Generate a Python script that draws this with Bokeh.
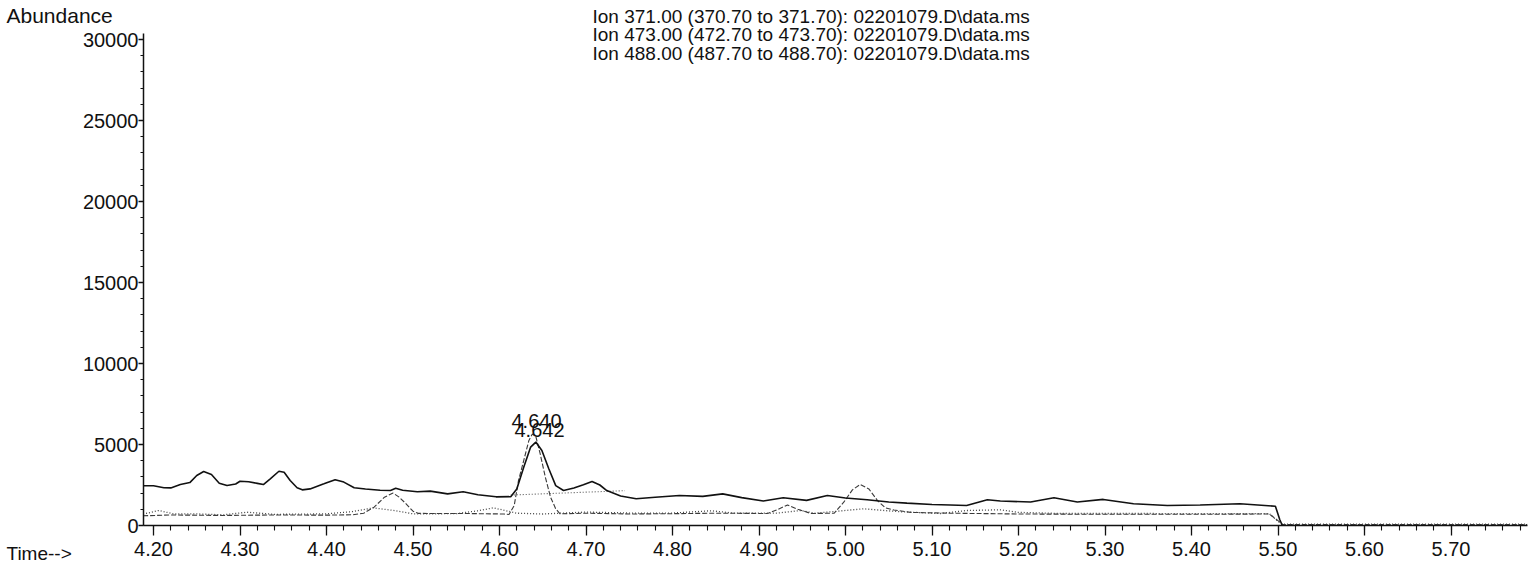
from bokeh.plotting import figure
from bokeh.models import FixedTicker, Label, Range1d
from bokeh.embed import file_html
from bokeh.resources import INLINE

# ---- data ----
ion371_t = [4.188, 4.20, 4.212, 4.22, 4.231, 4.242, 4.25, 4.258, 4.267, 4.276, 4.285, 4.295,
            4.30, 4.31, 4.32, 4.327, 4.335, 4.345, 4.351, 4.358, 4.366, 4.372, 4.381, 4.397,
            4.41, 4.42, 4.432, 4.445, 4.462, 4.474, 4.48, 4.488, 4.505, 4.52,
            4.54, 4.558, 4.575, 4.596, 4.613, 4.620, 4.628, 4.636, 4.642, 4.649, 4.657, 4.665,
            4.674, 4.686, 4.697, 4.707, 4.716, 4.724, 4.74, 4.758, 4.78, 4.808, 4.835, 4.858,
            4.88, 4.905, 4.928, 4.955, 4.979, 5.00, 5.025, 5.05, 5.071, 5.10, 5.121, 5.14,
            5.164, 5.179, 5.214, 5.241, 5.268, 5.298, 5.333, 5.372, 5.41, 5.456, 5.497,
            5.502, 5.505]
ion371_v = [2450, 2450, 2330, 2320, 2530, 2650, 3090, 3330, 3150, 2610, 2470, 2560,
            2730, 2700, 2600, 2530, 2880, 3350, 3290, 2780, 2330, 2200, 2260, 2570,
            2830, 2680, 2330, 2250, 2180, 2160, 2300, 2180, 2080, 2120,
            1950, 2080, 1900, 1770, 1780, 2260, 3600, 4840, 5150, 4630, 3500, 2460,
            2160, 2320, 2520, 2720, 2500, 2160, 1820, 1650, 1740, 1850, 1800, 1950,
            1720, 1510, 1710, 1550, 1850, 1700, 1590, 1450, 1380, 1300, 1270, 1230,
            1590, 1510, 1450, 1710, 1450, 1610, 1340, 1230, 1270, 1340, 1190,
            370, 0]

ion473_t = [4.188, 4.22, 4.28, 4.34, 4.40, 4.43, 4.443, 4.455, 4.467, 4.477, 4.484, 4.492,
            4.50, 4.506, 4.52, 4.56, 4.605, 4.611, 4.617, 4.622, 4.628, 4.634, 4.638, 4.642,
            4.647, 4.653, 4.659, 4.665, 4.67, 4.70, 4.75, 4.80, 4.85, 4.91, 4.922, 4.933,
            4.945, 4.96, 4.987, 4.998, 5.008, 5.017, 5.027, 5.037, 5.046, 5.056, 5.075,
            5.12, 5.20, 5.30, 5.40, 5.49, 5.50, 5.505, 5.788]
ion473_v = [600, 650, 620, 650, 640, 660, 760, 1130, 1750, 2000, 1750, 1340,
            880, 750, 740, 740, 710, 680, 1230, 2780, 4010, 5250, 5650, 5500,
            4430, 2980, 1750, 1030, 720, 760, 710, 730, 760, 740, 1000, 1270,
            1000, 740, 760, 1440, 2200, 2530, 2260, 1540, 1090, 960, 810,
            760, 710, 690, 690, 710, 300, 60, 60]

ion488_t = [4.188, 4.206, 4.224, 4.247, 4.281, 4.308, 4.339, 4.37, 4.40, 4.43, 4.454, 4.48,
            4.50, 4.55, 4.575, 4.593, 4.62, 4.65, 4.70, 4.75, 4.80, 4.845, 4.87, 4.92,
            4.948, 4.965, 5.021, 5.06, 5.11, 5.14, 5.179, 5.20, 5.25, 5.35, 5.45, 5.49,
            5.50, 5.505, 5.788]
ion488_v = [700, 925, 710, 720, 660, 820, 690, 700, 720, 860, 1090, 910,
            720, 730, 910, 1090, 760, 710, 830, 770, 770, 910, 770, 760,
            925, 760, 1030, 860, 740, 925, 970, 810, 740, 740, 730, 730,
            250, 90, 90]

# integration baseline under the 4.642 peak
base_t = [4.613, 4.745]
base_v = [1880, 2150]

peak_labels = ["4.640", "4.642"]

legend_lines = ["Ion 371.00 (370.70 to 371.70): 02201079.D\\data.ms",
                "Ion 473.00 (472.70 to 473.70): 02201079.D\\data.ms",
                "Ion 488.00 (487.70 to 488.70): 02201079.D\\data.ms"]

x_ticks = [4.2, 4.3, 4.4, 4.5, 4.6, 4.7, 4.8, 4.9, 5.0, 5.1, 5.2, 5.3, 5.4, 5.5, 5.6, 5.7]
x_tick_labels = ["4.20", "4.30", "4.40", "4.50", "4.60", "4.70", "4.80", "4.90",
                 "5.00", "5.10", "5.20", "5.30", "5.40", "5.50", "5.60", "5.70"]
x_minor = [round(4.2 + 0.02 * i, 2) for i in range(80)]
y_ticks = [0, 5000, 10000, 15000, 20000, 25000, 30000]
y_tick_labels = ["0", "5000", "10000", "15000", "20000", "25000", "30000"]
y_minor = [1000 * i for i in range(31)]

FONT = "Liberation Sans"

# ---- layout helpers (pixel position in the picture -> data position) ----
X0_PX, X_PER_UNIT = 153.0, 865.0   # x pixel of 4.20, pixels per minute
Y0_PX, Y_PER_UNIT = 525.0, 0.0162  # y pixel of 0, pixels per count
W, H = 1535, 569

def px2x(px):
    return 4.2 + (px - X0_PX) / X_PER_UNIT

def px2y(py):
    return (Y0_PX - py) / Y_PER_UNIT

p = figure(width=W, height=H, output_backend="svg", toolbar_location=None,
           x_range=Range1d(px2x(0), px2x(W)), y_range=Range1d(px2y(H), px2y(0)),
           min_border_left=0, min_border_right=0, min_border_top=0, min_border_bottom=0)
p.outline_line_color = None
p.grid.visible = False
p.background_fill_color = "white"
p.border_fill_color = "white"

for ax in (p.xaxis[0], p.yaxis[0]):
    ax.axis_line_color = "#111111"
    ax.axis_line_width = 1.5
    ax.major_tick_line_color = "#111111"
    ax.minor_tick_line_color = "#111111"
    ax.major_tick_line_width = 1.3
    ax.minor_tick_line_width = 1.1
    ax.major_label_text_font = FONT
    ax.major_label_text_font_size = "20px"
    ax.major_label_text_color = "#111111"
    ax.major_tick_in = 0
    ax.minor_tick_in = 0

p.xaxis.ticker = FixedTicker(ticks=x_ticks, minor_ticks=x_minor)
p.xaxis.major_label_overrides = {t: l for t, l in zip(x_ticks, x_tick_labels)}
p.xaxis.major_tick_out = 10
p.xaxis.minor_tick_out = 5
p.xaxis.major_label_standoff = 6
p.xaxis.fixed_location = 0
p.xaxis.bounds = (px2x(143), px2x(1527))

p.yaxis.ticker = FixedTicker(ticks=y_ticks, minor_ticks=y_minor)
p.yaxis.major_label_overrides = {t: l for t, l in zip(y_ticks, y_tick_labels)}
p.yaxis.major_tick_out = 5
p.yaxis.minor_tick_out = 3
p.yaxis.major_label_standoff = 0
p.yaxis.fixed_location = px2x(143)
p.yaxis.bounds = (0, px2y(33))

# ---- traces ----
p.line(ion473_t, ion473_v, line_color="#3a3a3a", line_width=1.1, line_dash="5 2")
p.line(ion488_t, ion488_v, line_color="#444444", line_width=1.3, line_dash="1 2")
p.line(base_t, base_v, line_color="#555555", line_width=1.1, line_dash="1 2")
p.line(ion371_t, ion371_v, line_color="#111111", line_width=1.6)

# ---- texts ----
def add_text(txt, x, y, align="left", size="20px"):
    p.add_layout(Label(x=x, y=y, text=txt, text_font=FONT, text_font_size=size,
                       text_color="#111111", text_align=align, text_baseline="middle"))

add_text("Abundance", px2x(6), px2y(15), size="21px")
add_text("Time-->", px2x(6), px2y(553), size="19px")
add_text(peak_labels[0], px2x(536), px2y(420), align="center")
add_text(peak_labels[1], px2x(539), px2y(429), align="center")
for i, line in enumerate(legend_lines):
    add_text(line, px2x(592), px2y([16, 34, 52.5][i]), size="19px")

open("out.html", "w").write(file_html(p, INLINE))
